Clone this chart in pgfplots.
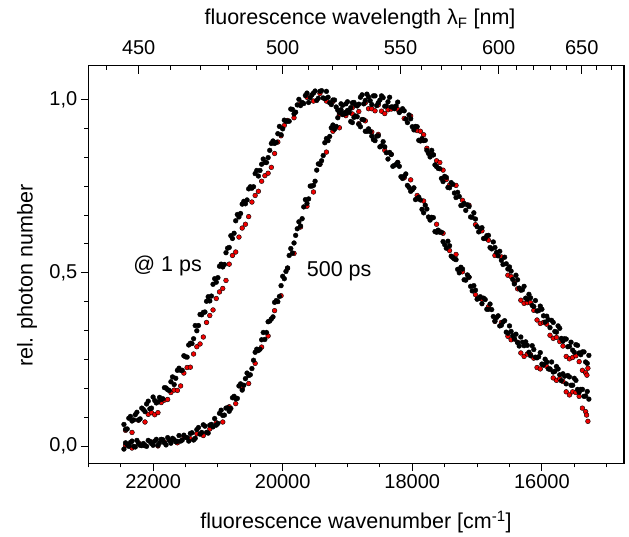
\documentclass[border=0pt]{standalone}
\usepackage{fontspec}
\setmainfont{Liberation Sans}
\usepackage{pgfplots}
\pgfplotsset{compat=1.18}
\definecolor{ored}{RGB}{240,0,0}

% @ 1 ps, black, two interleaved sweeps
\pgfplotstableread{
x y
22450 0.063
22400 0.050
22350 0.086
22300 0.076
22250 0.098
22200 0.079
22150 0.106
22100 0.122
22050 0.108
22000 0.142
21950 0.125
21900 0.141
21850 0.137
21800 0.168
21750 0.161
21700 0.200
21650 0.196
21600 0.225
21550 0.219
21500 0.258
21450 0.292
21400 0.296
21350 0.348
21300 0.348
21250 0.379
21200 0.387
21150 0.431
21100 0.433
21050 0.483
21000 0.486
20950 0.525
20900 0.524
20850 0.571
20800 0.607
20750 0.614
20700 0.668
20650 0.671
20600 0.706
20550 0.710
20500 0.748
20450 0.748
20400 0.795
20350 0.795
20300 0.828
20250 0.818
20200 0.853
20150 0.880
20100 0.876
20050 0.922
20000 0.915
19950 0.937
19900 0.937
19850 0.971
19800 0.963
19750 1.000
19700 0.991
19650 1.011
19600 0.991
19550 1.013
19500 1.024
19450 1.003
19400 1.025
19350 1.002
19300 1.006
19250 0.985
19200 0.998
19150 0.969
19100 0.987
19050 0.961
19000 0.968
18950 0.936
18900 0.948
18850 0.950
18800 0.921
18750 0.941
18700 0.908
18650 0.907
18600 0.884
18550 0.894
18500 0.863
18450 0.878
18400 0.846
18350 0.847
18300 0.807
18250 0.812
18200 0.807
18150 0.772
18100 0.785
18050 0.746
18000 0.739
17950 0.711
17900 0.718
17850 0.683
17800 0.695
17750 0.661
17700 0.660
17650 0.619
17600 0.623
17550 0.617
17500 0.581
17450 0.591
17400 0.548
17350 0.540
17300 0.510
17250 0.516
17200 0.480
17150 0.494
17100 0.461
17050 0.463
17000 0.424
16950 0.431
16900 0.427
16850 0.395
16800 0.410
16750 0.374
16700 0.371
16650 0.347
16600 0.358
16550 0.329
16500 0.347
16450 0.319
16400 0.323
16350 0.289
16300 0.300
16250 0.301
16200 0.271
16150 0.290
16100 0.257
16050 0.258
16000 0.237
15950 0.251
15900 0.223
15850 0.243
15800 0.216
15750 0.223
15700 0.189
15650 0.202
15600 0.204
15550 0.176
15500 0.196
15450 0.164
15400 0.164
15350 0.144
15300 0.158
}\blackone

\pgfplotstableread{
x y
22425 0.049
22375 0.081
22325 0.073
22275 0.091
22225 0.076
22175 0.110
22125 0.100
22075 0.130
22025 0.110
21975 0.132
21925 0.128
21875 0.135
21825 0.169
21775 0.163
21725 0.186
21675 0.178
21625 0.219
21575 0.219
21525 0.261
21475 0.257
21425 0.297
21375 0.310
21325 0.333
21275 0.380
21225 0.386
21175 0.418
21125 0.419
21075 0.467
21025 0.473
20975 0.519
20925 0.517
20875 0.558
20825 0.573
20775 0.599
20725 0.650
20675 0.661
20625 0.698
20575 0.699
20525 0.742
20475 0.744
20425 0.786
20375 0.779
20325 0.813
20275 0.818
20225 0.832
20175 0.873
20125 0.873
20075 0.901
20025 0.898
19975 0.940
19925 0.937
19875 0.972
19825 0.958
19775 0.984
19725 0.982
19675 0.988
19625 1.018
19575 1.005
19525 1.018
19475 0.997
19425 1.023
19375 1.004
19325 1.023
19275 0.990
19225 0.998
19175 0.978
19125 0.967
19075 0.983
19025 0.959
18975 0.962
18925 0.933
18875 0.952
18825 0.928
18775 0.942
18725 0.908
18675 0.915
18625 0.894
18575 0.881
18525 0.895
18475 0.866
18425 0.863
18375 0.828
18325 0.841
18275 0.810
18225 0.818
18175 0.777
18125 0.778
18075 0.752
18025 0.735
17975 0.745
17925 0.714
17875 0.710
17825 0.673
17775 0.684
17725 0.652
17675 0.659
17625 0.617
17575 0.617
17525 0.590
17475 0.571
17425 0.578
17375 0.544
17325 0.538
17275 0.500
17225 0.511
17175 0.479
17125 0.488
17075 0.448
17025 0.450
16975 0.426
16925 0.411
16875 0.423
16825 0.395
16775 0.394
16725 0.361
16675 0.376
16625 0.349
16575 0.362
16525 0.326
16475 0.331
16425 0.310
16375 0.299
16325 0.315
16275 0.290
16225 0.291
16175 0.261
16125 0.279
16075 0.255
16025 0.270
15975 0.235
15925 0.243
15875 0.223
15825 0.214
15775 0.230
15725 0.206
15675 0.209
15625 0.180
15575 0.200
15525 0.176
15475 0.190
15425 0.156
15375 0.164
15325 0.145
15275 0.136
}\blackoneb

% 500 ps, black, two interleaved sweeps
\pgfplotstableread{
x y
22450 -0.008
22400 0.005
22350 0.011
22300 0.000
22250 0.017
22200 0.003
22150 0.008
22100 0.000
22050 0.014
22000 0.003
21950 0.020
21900 0.010
21850 0.019
21800 0.004
21750 0.017
21700 0.023
21650 0.013
21600 0.031
21550 0.018
21500 0.026
21450 0.015
21400 0.039
21350 0.023
21300 0.054
21250 0.040
21200 0.058
21150 0.038
21100 0.063
21050 0.080
21000 0.066
20950 0.104
20900 0.090
20850 0.111
20800 0.109
20750 0.144
20700 0.138
20650 0.180
20600 0.176
20550 0.211
20500 0.206
20450 0.248
20400 0.280
20350 0.280
20300 0.328
20250 0.328
20200 0.361
20150 0.373
20100 0.420
20050 0.432
20000 0.490
19950 0.504
19900 0.550
19850 0.557
19800 0.608
19750 0.647
19700 0.656
19650 0.711
19600 0.713
19550 0.750
19500 0.764
19450 0.814
19400 0.823
19350 0.875
19300 0.881
19250 0.918
19200 0.914
19150 0.947
19100 0.970
19050 0.958
19000 0.993
18950 0.976
18900 0.991
18850 0.981
18800 1.006
18750 0.987
18700 1.015
18650 0.996
18600 1.010
18550 0.982
18500 0.998
18450 1.005
18400 0.981
18350 1.006
18300 0.978
18250 0.981
18200 0.962
18150 0.973
18100 0.943
18050 0.955
18000 0.921
17950 0.922
17900 0.882
17850 0.887
17800 0.882
17750 0.844
17700 0.853
17650 0.811
17600 0.801
17550 0.772
17500 0.778
17450 0.746
17400 0.760
17350 0.730
17300 0.732
17250 0.694
17200 0.700
17150 0.696
17100 0.661
17050 0.673
17000 0.633
16950 0.627
16900 0.599
16850 0.607
16800 0.573
16750 0.589
16700 0.559
16650 0.562
16600 0.524
16550 0.526
16500 0.517
16450 0.481
16400 0.493
16350 0.456
16300 0.451
16250 0.427
16200 0.438
16150 0.406
16100 0.420
16050 0.391
16000 0.395
15950 0.358
15900 0.365
15850 0.363
15800 0.331
15750 0.347
15700 0.311
15650 0.310
15600 0.287
15550 0.300
15500 0.271
15450 0.291
15400 0.264
15350 0.272
15300 0.239
}\blackfive

\pgfplotstableread{
x y
22425 0.010
22375 0.000
22325 0.015
22275 -0.002
22225 0.008
22175 0.002
22125 0.002
22075 0.017
22025 0.008
21975 0.015
21925 0.003
21875 0.020
21825 0.010
21775 0.025
21725 0.009
21675 0.019
21625 0.014
21575 0.015
21525 0.032
21475 0.025
21425 0.037
21375 0.018
21325 0.048
21275 0.035
21225 0.062
21175 0.040
21125 0.061
21075 0.056
21025 0.061
20975 0.095
20925 0.089
20875 0.110
20825 0.101
20775 0.140
20725 0.137
20675 0.174
20625 0.162
20575 0.195
20525 0.204
20475 0.224
20425 0.271
20375 0.276
20325 0.307
20275 0.308
20225 0.359
20175 0.367
20125 0.415
20075 0.417
20025 0.463
19975 0.483
19925 0.514
19875 0.570
19825 0.586
19775 0.627
19725 0.635
19675 0.690
19625 0.700
19575 0.750
19525 0.752
19475 0.796
19425 0.813
19375 0.838
19325 0.887
19275 0.893
19225 0.926
19175 0.922
19125 0.962
19075 0.956
19025 0.987
18975 0.968
18925 0.990
18875 0.984
18825 0.986
18775 1.013
18725 0.997
18675 1.007
18625 0.985
18575 1.010
18525 0.990
18475 1.010
18425 0.980
18375 0.993
18325 0.978
18275 0.973
18225 0.992
18175 0.967
18125 0.967
18075 0.933
18025 0.944
17975 0.912
17925 0.921
17875 0.880
17825 0.881
17775 0.853
17725 0.834
17675 0.840
17625 0.806
17575 0.800
17525 0.763
17475 0.775
17425 0.745
17375 0.755
17325 0.717
17275 0.720
17225 0.695
17175 0.680
17125 0.691
17075 0.660
17025 0.655
16975 0.618
16925 0.630
16875 0.599
16825 0.608
16775 0.569
16725 0.573
16675 0.549
16625 0.536
16575 0.545
16525 0.511
16475 0.505
16425 0.468
16375 0.480
16325 0.450
16275 0.461
16225 0.424
16175 0.428
16125 0.403
16075 0.390
16025 0.404
15975 0.376
15925 0.375
15875 0.342
15825 0.357
15775 0.329
15725 0.340
15675 0.303
15625 0.309
15575 0.288
15525 0.277
15475 0.293
15425 0.269
15375 0.272
15325 0.243
15275 0.262
}\blackfiveb

% red companions
\pgfplotstableread{
x y
22425 0.046
22325 0.040
22225 0.075
22125 0.070
22075 0.092
22025 0.097
21975 0.091
21925 0.097
21875 0.126
21825 0.133
21775 0.135
21725 0.155
21675 0.162
21625 0.161
21575 0.174
21525 0.211
21475 0.227
21425 0.228
21375 0.266
21325 0.287
21275 0.295
21225 0.315
21175 0.357
21125 0.377
21075 0.393
21025 0.426
20975 0.445
20925 0.455
20875 0.478
20825 0.525
20775 0.550
20725 0.560
20675 0.603
20625 0.629
20575 0.640
20525 0.662
20475 0.704
20425 0.723
20375 0.735
20325 0.764
20275 0.780
20225 0.787
20175 0.804
20125 0.844
20075 0.877
20025 0.895
19975 0.925
19925 0.939
19825 0.947
19725 0.987
19625 1.006
19525 0.995
19425 1.017
19325 0.995
19225 0.994
19125 0.957
19025 0.962
18925 0.958
18825 0.930
18725 0.938
18625 0.906
18525 0.899
18425 0.853
18325 0.842
18225 0.818
18125 0.774
18025 0.768
17925 0.723
17825 0.707
17725 0.655
17625 0.640
17525 0.614
17425 0.564
17325 0.553
17225 0.503
17125 0.487
17025 0.437
16925 0.424
16825 0.402
16725 0.360
16625 0.357
16525 0.317
16475 0.307
16425 0.309
16375 0.300
16325 0.269
16275 0.259
16225 0.266
16175 0.264
16125 0.254
16075 0.227
16025 0.223
15975 0.234
15925 0.230
15875 0.222
15825 0.197
15775 0.190
15725 0.195
15675 0.187
15625 0.157
15575 0.148
15525 0.157
15475 0.155
15425 0.144
15375 0.110
15325 0.100
15310 0.090
15290 0.072
}\redone

\pgfplotstableread{
x y
22425 0.003
22325 -0.005
22225 0.010
22125 0.002
22025 0.012
21925 0.001
21825 0.012
21725 0.016
21625 0.010
21525 0.028
21425 0.022
21325 0.036
21225 0.031
21125 0.050
21025 0.068
20925 0.070
20825 0.114
20725 0.123
20625 0.166
20525 0.181
20425 0.239
20325 0.286
20225 0.318
20125 0.391
20025 0.434
19925 0.513
19825 0.556
19725 0.632
19625 0.692
19525 0.733
19425 0.813
19325 0.848
19225 0.908
19125 0.918
19025 0.953
18925 0.976
18825 0.965
18725 0.990
18675 0.973
18625 0.973
18575 0.967
18525 0.984
18475 0.966
18425 0.959
18375 0.970
18325 0.972
18225 0.971
18125 0.945
18025 0.952
17925 0.910
17875 0.908
17825 0.898
17775 0.859
17725 0.843
17675 0.840
17625 0.823
17575 0.818
17525 0.796
17475 0.769
17425 0.753
17325 0.752
17225 0.709
17125 0.695
17025 0.639
16925 0.621
16825 0.594
16725 0.550
16625 0.546
16525 0.493
16475 0.489
16425 0.471
16375 0.454
16325 0.421
16275 0.412
16225 0.414
16175 0.414
16125 0.392
16075 0.364
16025 0.354
15975 0.357
15925 0.352
15875 0.320
15825 0.311
15775 0.314
15725 0.302
15675 0.289
15625 0.259
15575 0.252
15525 0.256
15475 0.261
15425 0.244
15375 0.219
15325 0.212
15305 0.205
15290 0.225
}\redfive

\begin{document}
\begin{tikzpicture}
\pgfplotsset{
  frame/.style={width=535.7pt, height=397.6pt, scale only axis,
    x dir=reverse, xmin=14733, xmax=23000, ymin=-0.049, ymax=1.097,
    scaled x ticks=false, scaled y ticks=false,
    axis line style={line width=1.1pt},
    tick style={black, line width=0.9pt},
    ticklabel style={font=\fontsize{20}{24}\selectfont},
    /pgf/number format/assume math mode=true,
    /pgf/number format/1000 sep={}},
  dots/.style={only marks, mark=*, mark size=2.4pt, mark options={draw=none, fill=#1}},
}
\begin{axis}[name=main, frame,
  tick align=outside, major tick length=7.5pt, minor tick length=4pt,
  xtick pos=bottom, ytick pos=left,
  xtick={16000,18000,20000,22000},
  minor xtick={15000,15500,16500,17000,17500,18500,19000,19500,20500,21000,21500,22500,23000},
  ytick={0,0.5,1}, yticklabels={{0,0},{0,5},{1,0}},
  minor y tick num=5]
\addplot[dots=ored] table {\redone};
\addplot[dots=ored] table {\redfive};
\addplot[dots=black] table {\blackone};
\addplot[dots=black] table {\blackoneb};
\addplot[dots=black] table {\blackfive};
\addplot[dots=black] table {\blackfiveb};
\node[anchor=base west, inner sep=0pt, font=\fontsize{21.5}{25}\selectfont] at (axis cs:22306,0.503) {@ 1 ps};
\node[anchor=base west, inner sep=0pt, font=\fontsize{21.5}{25}\selectfont] at (axis cs:19630,0.488) {500 ps};
\end{axis}
\begin{axis}[frame, at={(main.south west)}, anchor=south west,
  axis x line*=top, axis y line=none,
  tick align=inside, major tick length=8pt, minor tick length=4pt,
  xticklabel style={yshift=7pt},
  xtick={22222.2,20000,18181.8,16666.7,15384.6},
  xticklabels={450,500,550,600,650},
  minor xtick={22727.3,21739.1,21276.6,20833.3,20408.2,19607.8,19230.8,18867.9,18518.5,17857.1,17543.9,17241.4,16949.2,16393.4,16129.0,15873.0,15625.0,15151.5,14925.4}]
\addplot[draw=none] coordinates {(20000,0.5)};
\end{axis}
\node[anchor=base, font=\fontsize{21.5}{25}\selectfont] at ([xshift=267.7pt,yshift=-65.7pt]main.south west) {fluorescence wavenumber [cm\textsuperscript{-1}]};
\node[anchor=base, font=\fontsize{21.5}{25}\selectfont] at ([xshift=271.7pt,yshift=438.3pt]main.south west) {fluorescence wavelength λ\textsubscript{F} [nm]};
\node[rotate=90, font=\fontsize{21.5}{25}\selectfont] at ([xshift=-61.3pt,yshift=187.6pt]main.south west) {rel. photon number};
\path ([xshift=-88.3pt,yshift=-73.7pt]main.south west) rectangle ([xshift=540.7pt,yshift=463.3pt]main.south west);
\end{tikzpicture}
\end{document}
